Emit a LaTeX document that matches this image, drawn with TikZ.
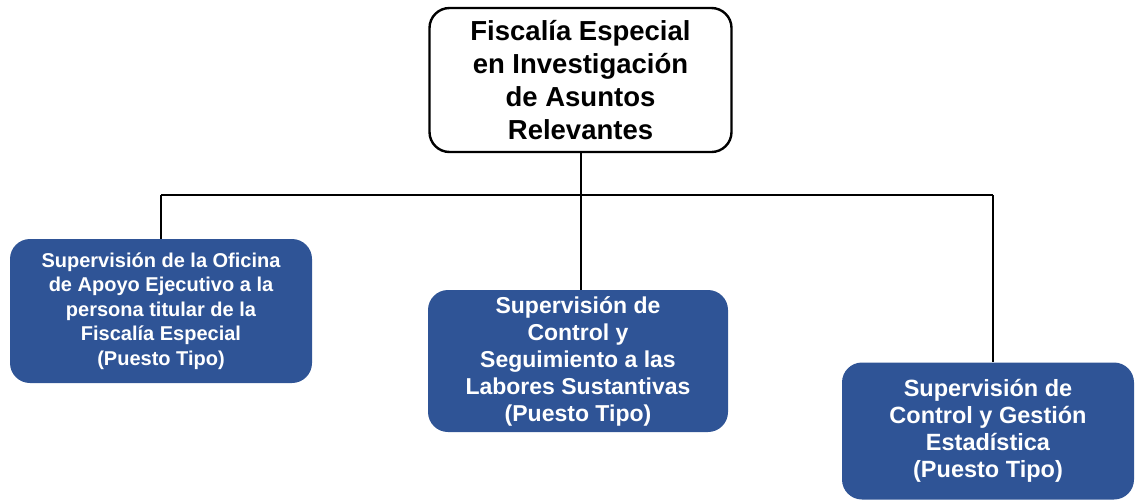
\documentclass[tikz,border=0pt]{standalone}
\usepackage{fontspec}
\setmainfont{Liberation Sans}
\definecolor{boxblue}{RGB}{47,84,150}
\begin{document}
\begin{tikzpicture}[x=1pt,y=-1pt,
  topbox/.style={draw=black, line width=2.4pt, rounded corners=20pt, fill=white,
    align=center, inner sep=0pt, font=\bfseries\fontsize{27.5}{33}\selectfont},
  subbox/.style={fill=boxblue, rounded corners=20pt, text=white, align=center, inner sep=0pt},
  conn/.style={draw=black, line width=1.2pt}]
\useasboundingbox (0,0) rectangle (1135,499);
\node[topbox, minimum width=302pt, minimum height=144pt] (top) at (580.5,80)
  {Fiscalía Especial\\en Investigación\\de Asuntos\\Relevantes};
\node[subbox, minimum width=302pt, minimum height=144pt,
  font=\bfseries\fontsize{20}{24.5}\selectfont] (left) at (161,311)
  {Supervisión de la Oficina\\de Apoyo Ejecutivo a la\\persona titular de la\\Fiscalía Especial\\(Puesto Tipo)};
\node[subbox, minimum width=300pt, minimum height=142pt,
  font=\bfseries\fontsize{23}{27}\selectfont] (mid) at (578,361)
  {Supervisión de\\Control y\\Seguimiento a las\\Labores Sustantivas\\(Puesto Tipo)};
\node[subbox, minimum width=292pt, minimum height=137pt,
  font=\bfseries\fontsize{23.5}{27}\selectfont] (right) at (988,431)
  {Supervisión de\\Control y Gestión\\Estadística\\(Puesto Tipo)};
\coordinate (hl) at (161,195);
\coordinate (hm) at (581,195);
\coordinate (hr) at (993,195);
\draw[conn] (top.south -| hm) -- (hm);
\draw[conn] (hl) -- (hr);
\draw[conn] (hl) -- (left.north);
\draw[conn] (hm) -- (hm |- mid.north);
\draw[conn] (hr) -- (hr |- right.north);
\end{tikzpicture}
\end{document}
